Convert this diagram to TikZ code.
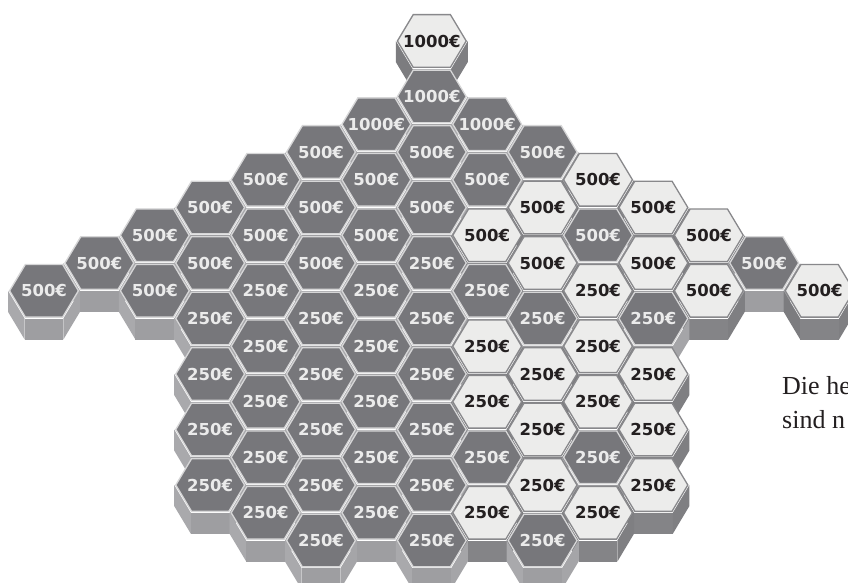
\documentclass[tikz,border=0pt]{standalone}
\usepackage{fontspec}
\setmainfont{Liberation Serif}
\newfontfamily\hexfont{DejaVu Sans}
\definecolor{faceD}{HTML}{77777B}
\definecolor{faceL}{HTML}{ECECEB}
\definecolor{strD}{HTML}{D6D6D7}
\definecolor{strL}{HTML}{88888B}
\definecolor{txtD}{HTML}{EBEBEB}
\definecolor{txtL}{HTML}{231F20}
\definecolor{xLD}{HTML}{A9A9AC}
\definecolor{xFD}{HTML}{9E9EA1}
\definecolor{xRD}{HTML}{A5A5A8}
\definecolor{xLL}{HTML}{7C7C7F}
\definecolor{xFL}{HTML}{848487}
\definecolor{xRL}{HTML}{7F7F82}
\definecolor{notetext}{HTML}{231F20}
\tikzset{
  lab/.style={inner sep=0pt, font=\hexfont\fontsize{16.5}{18}\selectfont\bfseries},
  note/.style={inner sep=0pt, anchor=base west, text=notetext, font=\fontsize{26}{31}\selectfont}
}
\begin{document}
\begin{tikzpicture}[x=1pt,y=-1pt]
\useasboundingbox (0,0) rectangle (848,583);
\foreach \c/\k/\v/\t in {
 7/0/1000/L,
 7/2/1000/D,
 6/3/1000/D, 8/3/1000/D,
 5/4/500/D, 7/4/500/D, 9/4/500/D,
 4/5/500/D, 6/5/500/D, 8/5/500/D, 10/5/500/L,
 3/6/500/D, 5/6/500/D, 7/6/500/D, 9/6/500/L, 11/6/500/L,
 2/7/500/D, 4/7/500/D, 6/7/500/D, 8/7/500/L, 10/7/500/D, 12/7/500/L,
 1/8/500/D, 3/8/500/D, 5/8/500/D, 7/8/250/D, 9/8/500/L, 11/8/500/L, 13/8/500/D,
 0/9/500/D, 2/9/500/D, 4/9/250/D, 6/9/250/D, 8/9/250/D, 10/9/250/L, 12/9/500/L, 14/9/500/L,
 3/10/250/D, 5/10/250/D, 7/10/250/D, 9/10/250/D, 11/10/250/D,
 4/11/250/D, 6/11/250/D, 8/11/250/L, 10/11/250/L,
 3/12/250/D, 5/12/250/D, 7/12/250/D, 9/12/250/L, 11/12/250/L,
 4/13/250/D, 6/13/250/D, 8/13/250/L, 10/13/250/L,
 3/14/250/D, 5/14/250/D, 7/14/250/D, 9/14/250/L, 11/14/250/L,
 4/15/250/D, 6/15/250/D, 8/15/250/D, 10/15/250/D,
 3/16/250/D, 5/16/250/D, 7/16/250/D, 9/16/250/L, 11/16/250/L,
 4/17/250/D, 6/17/250/D, 8/17/250/L, 10/17/250/L,
 5/18/250/D, 7/18/250/D, 9/18/250/D}{
  \pgfmathsetmacro\cx{44+55.4*\c}
  \pgfmathsetmacro\cy{41+27.75*\k}
  \begin{scope}[shift={(\cx,\cy)}]
    \fill[fill=xL\t] (-36,0) -- (-19.4,27.75) -- (-19.4,48.75) -- (-36,21) -- cycle;
    \fill[fill=xF\t] (-19.4,27.75) -- (19.4,27.75) -- (19.4,48.75) -- (-19.4,48.75) -- cycle;
    \fill[fill=xR\t] (19.4,27.75) -- (36,0) -- (36,21) -- (19.4,48.75) -- cycle;
    \filldraw[fill=face\t, draw=str\t, line width=1.3pt, line join=miter]
      (-34.4,0) -- (-18.6,-26.35) -- (18.6,-26.35) -- (34.4,0) -- (18.6,26.35) -- (-18.6,26.35) -- cycle;
    \node[lab, text=txt\t] (h-\c-\k) at (0,0) {\v€};
  \end{scope}
}
\begin{scope}
  \clip (0,0) rectangle (848,583);
  \node[note] (line1) at (782,394) {Die he};
  \node[note] (line2) at (782,428) {sind n};
\end{scope}
\end{tikzpicture}
\end{document}
